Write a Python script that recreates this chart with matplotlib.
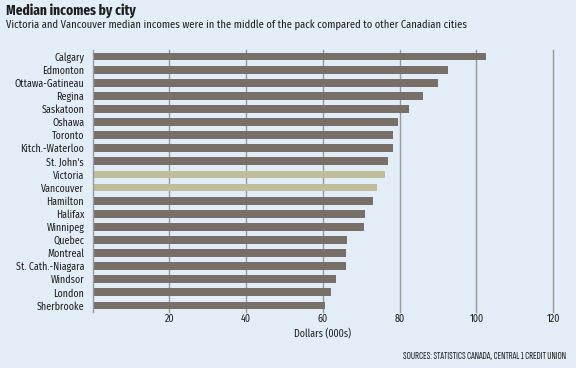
import matplotlib
matplotlib.use("Agg")
import matplotlib.pyplot as plt

cities = ["Calgary", "Edmonton", "Ottawa-Gatineau", "Regina", "Saskatoon", "Oshawa",
          "Toronto", "Kitch.-Waterloo", "St. John's", "Victoria", "Vancouver", "Hamilton",
          "Halifax", "Winnipeg", "Quebec", "Montreal", "St. Cath.-Niagara", "Windsor",
          "London", "Sherbrooke"]
incomes = [102.5, 92.6, 89.9, 86.1, 82.4, 79.6, 78.2, 78.2, 76.9, 76.2, 74.1, 73.0,
           71.0, 70.7, 66.3, 66.0, 66.0, 63.4, 62.1, 60.5]
highlight = ["Victoria", "Vancouver"]
xticks = [20, 40, 60, 80, 100, 120]

plt.rcParams['font.family'] = ['Fira Sans Condensed', 'Roboto Condensed', 'DejaVu Sans']

BG = "#e3edf7"
BAR = "#787068"
HL = "#c0bd9b"
GRID = "#959aa0"
TXT = "#1e1e1e"

fig = plt.figure(figsize=(5.76, 3.68), dpi=100, facecolor=BG)
ax = fig.add_axes([92.5/576, (368-312)/368, (553.3-92.5)/576, 262/368])
ax.set_facecolor(BG)

colors = [HL if c in highlight else BAR for c in cities]
ypos = list(range(len(cities)))
ax.barh(ypos, incomes, height=0.6, color=colors, zorder=2)
ax.set_ylim(len(cities) - 0.5, -0.5)
ax.set_xlim(0, 120)
ax.set_yticks(ypos)
ax.set_yticklabels(cities, fontsize=7.2, color=TXT)
ax.set_xticks(xticks)
ax.set_xticklabels([str(v) for v in xticks], fontsize=7.2, color=TXT)
ax.tick_params(axis='y', length=0, pad=6)
ax.tick_params(axis='x', length=0, pad=1)
for s in ["top", "right", "bottom"]:
    ax.spines[s].set_visible(False)
ax.spines["left"].set_color(GRID)
ax.spines["left"].set_linewidth(1)
for v in xticks:
    ax.axvline(v, color=GRID, lw=1, zorder=1, clip_on=False)
ax.set_xlabel("Dollars (000s)", fontsize=7.2, color=TXT, labelpad=3)

fig.text(6/576, 1 - 3/368, "Median incomes by city", fontsize=10.5, fontweight="bold",
         color=TXT, va="top", ha="left",
         family=['Fira Sans Extra Condensed', 'Fira Sans Condensed', 'DejaVu Sans'])
fig.text(6/576, 1 - 19/368,
         "Victoria and Vancouver median incomes were in the middle of the pack compared to other Canadian cities",
         fontsize=7.6, color=TXT, va="top", ha="left")
fig.text(566/576, 1 - 357/368, "SOURCES: STATISTICS CANADA, CENTRAL 1 CREDIT UNION",
         fontsize=7.6, color=TXT, va="center", ha="right", fontweight="semibold",
         family=['Sofia Sans Extra Condensed', 'Fira Sans Extra Condensed', 'DejaVu Sans'])

fig.savefig("out.png", dpi=100, facecolor=BG)
